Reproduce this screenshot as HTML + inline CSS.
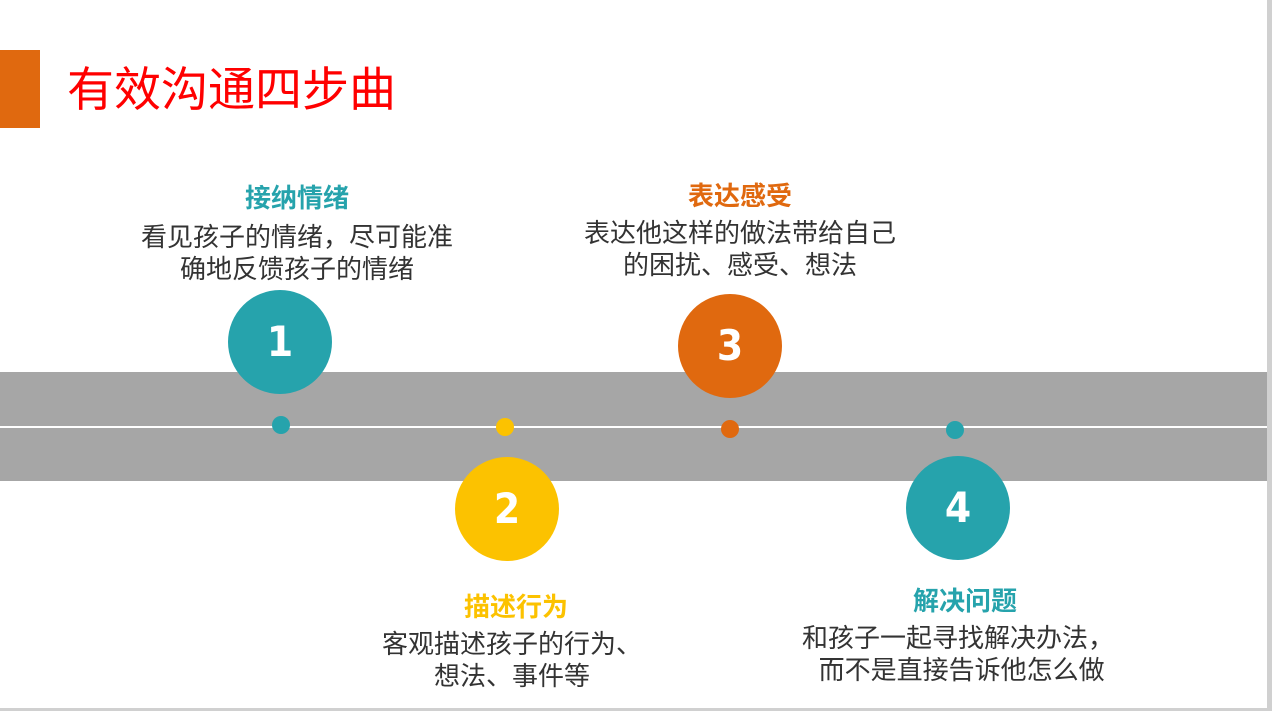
<!DOCTYPE html>
<html><head><meta charset="utf-8"><style>
body{margin:0;width:1272px;height:711px;background:#fff;position:relative;overflow:hidden;font-family:"Liberation Sans","Noto Sans CJK SC",sans-serif}
.a{position:absolute}
.h{position:absolute;font-weight:bold;font-size:26px;text-align:center;width:500px;line-height:30px}
.t{position:absolute;font-size:26px;color:#333;text-align:center;width:500px;line-height:32px}
.c{position:absolute;width:104px;height:104px;border-radius:50%;color:#fff;font-weight:bold;font-size:42px;text-align:center;line-height:104px;font-family:"Liberation Sans Narrow","DejaVu Sans Condensed",sans-serif}
.d{position:absolute;width:18px;height:18px;border-radius:50%}
</style></head><body>
<div class="a" style="right:0;top:0;width:5px;height:711px;background:#d0d0d0"></div>
<div class="a" style="left:0;bottom:0;width:1272px;height:3px;background:#d0d0d0"></div>
<div class="a" style="left:0;top:50px;width:40px;height:78px;background:#E0690F"></div>
<div class="a" style="left:67px;top:61px;font-size:47px;color:#f00;line-height:58px">有效沟通四步曲</div>
<div class="a" style="left:0;top:372px;width:1267px;height:109px;background:#A6A6A6"></div>
<div class="a" style="left:0;top:426px;width:1267px;height:2px;background:#fff"></div>
<div class="d" style="left:272px;top:416px;background:#26A3AC"></div>
<div class="d" style="left:496px;top:418px;background:#FCC200"></div>
<div class="d" style="left:721px;top:420px;background:#E0690F"></div>
<div class="d" style="left:946px;top:421px;background:#26A3AC"></div>
<div class="c" style="left:228px;top:290px;background:#26A3AC">1</div>
<div class="c" style="left:455px;top:457px;background:#FCC200">2</div>
<div class="c" style="left:678px;top:294px;background:#E0690F">3</div>
<div class="c" style="left:906px;top:456px;background:#26A3AC">4</div>
<div class="h" style="left:47px;top:183px;color:#26A3AC">接纳情绪</div>
<div class="t" style="left:47px;top:221px">看见孩子的情绪，尽可能准<br>确地反馈孩子的情绪</div>
<div class="h" style="left:490px;top:181px;color:#E0690F">表达感受</div>
<div class="t" style="left:490px;top:217px">表达他这样的做法带给自己<br>的困扰、感受、想法</div>
<div class="h" style="left:266px;top:592px;color:#FCC200">描述行为</div>
<div class="t" style="left:262px;top:628px">客观描述孩子的行为、<br>想法、事件等</div>
<div class="h" style="left:715px;top:586px;color:#26A3AC">解决问题</div>
<div class="t" style="left:708px;top:622px">和孩子一起寻找解决办法，<br>&nbsp;而不是直接告诉他怎么做</div>
</body></html>
